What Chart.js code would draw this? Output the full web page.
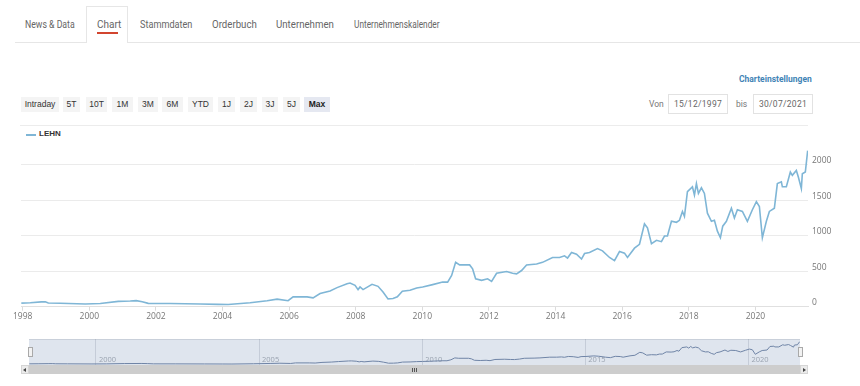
<!DOCTYPE html>
<html><head><meta charset="utf-8">
<script src="https://cdn.jsdelivr.net/npm/chart.js@4.4.0/dist/chart.umd.min.js"></script>
<style>
html,body{margin:0;padding:0;background:#fff;width:860px;height:386px;overflow:hidden;position:relative;font-family:"Open Sans",sans-serif;}
.abs{position:absolute;}
.tab{position:absolute;top:18px;font-family:Roboto,"Open Sans",sans-serif;font-size:10.5px;color:#666;white-space:nowrap;transform-origin:0 50%;}
.btn{position:absolute;top:97px;height:15px;line-height:15px;background:#f4f4f4;text-align:center;font-family:"Liberation Sans",Arial,sans-serif;font-size:8.5px;color:#333;}
.inp{position:absolute;top:94px;height:20px;border:1px solid #e2e2e2;box-sizing:border-box;font-family:Roboto,sans-serif;font-size:8.5px;color:#666;text-align:center;line-height:18px;letter-spacing:0.3px;}
</style></head>
<body>
<!-- tabs -->
<div class="abs" style="left:15px;top:42px;width:845px;height:1px;background:#e6e6e6"></div>
<div class="abs" style="left:86px;top:6px;width:42px;height:37px;border:1px solid #e6e6e6;border-bottom:none;background:#fff;box-sizing:border-box"></div>
<div class="tab" style="left:25px;transform:scaleX(0.83)">News &amp; Data</div>
<div class="tab" style="left:97px;transform:scaleX(0.95)">Chart</div>
<div class="abs" style="left:97px;top:32px;width:21px;height:2px;background:#d2452f"></div>
<div class="tab" style="left:140px;transform:scaleX(0.87)">Stammdaten</div>
<div class="tab" style="left:212px;transform:scaleX(0.92)">Orderbuch</div>
<div class="tab" style="left:276px;transform:scaleX(0.92)">Unternehmen</div>
<div class="tab" style="left:354px;transform:scaleX(0.79)">Unternehmenskalender</div>

<div class="abs" style="left:739px;top:74px;font-family:Roboto,sans-serif;font-size:8.5px;font-weight:bold;color:#3f83b5">Charteinstellungen</div>

<div id="btns"></div>

<div class="abs" style="left:649px;top:99px;font-family:Roboto,sans-serif;font-size:8.5px;color:#777">Von</div>
<div class="inp" style="left:668px;width:60px">15/12/1997</div>
<div class="abs" style="left:736px;top:99px;font-family:Roboto,sans-serif;font-size:8.5px;color:#777">bis</div>
<div class="inp" style="left:753px;width:60px">30/07/2021</div>

<div class="abs" style="left:20px;top:125px;width:788px;height:1px;background:#ececec"></div>

<div class="abs" style="left:26px;top:134px;width:10px;height:1.5px;background:#7fb6d6"></div>
<div class="abs" style="left:39px;top:129px;font-family:'Liberation Sans',Arial,sans-serif;font-size:8px;font-weight:bold;color:#333">LEHN</div>

<div class="abs" style="left:0;top:138px;width:860px;height:200px"><canvas id="main" width="860" height="200"></canvas></div>

<!-- navigator -->
<div class="abs" style="left:29px;top:339px;width:771px;height:26px;background:#dfe5ee;border-top:1px solid #c9d0da;box-sizing:border-box"></div>
<div class="abs" style="left:0;top:336px;width:860px;height:32px"><canvas id="nav" width="860" height="32"></canvas></div>
<div class="abs" style="left:28px;top:347px;width:5px;height:10px;background:#f2f2f2;border:1px solid #a9a9a9;box-sizing:border-box"></div>
<div class="abs" style="left:798px;top:347px;width:5px;height:10px;background:#f2f2f2;border:1px solid #a9a9a9;box-sizing:border-box"></div>
<!-- scrollbar -->
<div class="abs" style="left:29px;top:365px;width:771px;height:9px;background:#cdcdcd"></div>
<div class="abs" style="left:21px;top:365px;width:8px;height:9px;background:#ebebeb;border:1px solid #d5d5d5;box-sizing:border-box"></div>
<div class="abs" style="left:23px;top:368px;width:0;height:0;border-top:2px solid transparent;border-bottom:2px solid transparent;border-right:3px solid #444"></div>
<div class="abs" style="left:800px;top:365px;width:8px;height:9px;background:#ebebeb;border:1px solid #d5d5d5;box-sizing:border-box"></div>
<div class="abs" style="left:803px;top:368px;width:0;height:0;border-top:2px solid transparent;border-bottom:2px solid transparent;border-left:3px solid #444"></div>
<div class="abs" style="left:412px;top:368px;width:1px;height:4px;background:#555"></div>
<div class="abs" style="left:414px;top:368px;width:1px;height:4px;background:#555"></div>
<div class="abs" style="left:416px;top:368px;width:1px;height:4px;background:#555"></div>

<script>
// ---- data ----
const buttonLabels = ["Intraday","5T","10T","1M","3M","6M","YTD","1J","2J","3J","5J","Max"];
const seriesName = "LEHN";
const years = [1997.96,1998.23,1998.56,1998.68,1998.77,1999.13,1999.88,2000.33,2000.87,2001.23,2001.41,2001.59,2001.77,2002.43,2003.33,2003.87,2004.17,2004.83,2005.34,2005.64,2005.97,2006.12,2006.54,2006.72,2006.93,2007.23,2007.44,2007.74,2007.83,2007.98,2008.07,2008.13,2008.22,2008.49,2008.67,2008.82,2008.97,2009.12,2009.25,2009.40,2009.63,2009.83,2010.01,2010.31,2010.61,2010.76,2010.88,2011.00,2011.12,2011.42,2011.51,2011.60,2011.78,2011.96,2012.08,2012.23,2012.53,2012.71,2012.83,2012.98,2013.13,2013.43,2013.61,2013.91,2014.12,2014.27,2014.36,2014.48,2014.63,2014.78,2014.87,2015.02,2015.26,2015.41,2015.62,2015.77,2015.92,2016.07,2016.16,2016.37,2016.52,2016.67,2016.76,2016.88,2017.03,2017.18,2017.27,2017.36,2017.48,2017.63,2017.72,2017.81,2017.87,2017.96,2018.11,2018.17,2018.23,2018.29,2018.38,2018.47,2018.56,2018.68,2018.77,2018.86,2018.95,2019.02,2019.13,2019.28,2019.37,2019.46,2019.61,2019.76,2019.91,2020.03,2020.12,2020.21,2020.33,2020.42,2020.57,2020.66,2020.78,2020.81,2020.93,2021.05,2021.11,2021.23,2021.29,2021.38,2021.41,2021.50,2021.57];
const values = [50,55,68,70,52,48,38,45,75,80,85,70,47,45,38,33,30,55,84,107,84,139,139,125,186,222,269,325,334,301,241,278,241,315,287,208,110,115,139,218,232,264,278,311,347,347,440,625,589,589,533,394,371,394,357,472,496,472,463,510,589,603,625,694,694,718,686,764,741,672,750,764,819,787,694,649,778,755,694,825,880,1167,1111,889,936,917,996,996,1204,1190,1218,1343,1274,1621,1690,1575,1736,1597,1676,1597,1319,1204,1218,1065,972,1135,1204,1389,1250,1367,1343,1204,1367,1482,1413,972,1204,1343,1389,1736,1760,1690,1690,1898,1852,1921,1829,1667,1875,1898,2200];
const xTickYears = [1998,2000,2002,2004,2006,2008,2010,2012,2014,2016,2018,2020];
const yTickValues = [0,500,1000,1500,2000];
const navTickYears = [2000,2005,2010,2015,2020];
const startYear = 1997.95, endYear = 2021.58;

// buttons
const btnBoxes = [[21,38],[63,17],[86,21],[112,21],[138,20],[162,21],[188,25],[218,17],[240,17],[262,16],[283,17],[304,26]];
const btnWrap = document.getElementById('btns');
buttonLabels.forEach((t,i)=>{
  const d=document.createElement('div'); d.className='btn'; d.textContent=t;
  d.style.left=btnBoxes[i][0]+'px'; d.style.width=btnBoxes[i][1]+'px';
  if(t==='Max'){d.style.background='#e5e8f1';d.style.fontWeight='bold';d.style.color='#222';}
  btnWrap.appendChild(d);
});

const pts = years.map((y,i)=>({x:y,y:values[i]}));
const lblFont = {family:"'Open Sans',sans-serif", size:8.5};

new Chart(document.getElementById('main'),{
  type:'line',
  data:{datasets:[{label:seriesName,data:pts,borderColor:'#7fb6d6',borderWidth:1.6,pointRadius:0,tension:0,fill:false}]},
  options:{
    responsive:false,animation:false,
    layout:{autoPadding:false,padding:{left:21,top:6.7,right:0,bottom:0}},
    plugins:{legend:{display:false},tooltip:{enabled:false}},
    scales:{
      x:{type:'linear',min:startYear,max:endYear,
        afterBuildTicks:s=>{s.ticks=xTickYears.map(v=>({value:v}));},
        afterFit:s=>{s.height=31.3;},
        grid:{drawOnChartArea:false,drawTicks:true,tickLength:4,color:'#dcdcdc'},
        border:{color:'#e0e0e0'},
        ticks:{padding:1,color:'#777',font:lblFont,maxRotation:0,autoSkip:false,callback:v=>String(v)}},
      y:{position:'right',min:0,max:2250,
        afterBuildTicks:s=>{s.ticks=yTickValues.map(v=>({value:v}));},
        afterFit:s=>{s.width=52;},
        grid:{drawTicks:false,color:'#ebebeb'},
        border:{display:false},
        ticks:{padding:4,labelOffset:-4,color:'#777',font:lblFont,callback:v=>String(v)}}
    }
  }
});

new Chart(document.getElementById('nav'),{
  type:'line',
  data:{datasets:[{label:seriesName,data:pts,borderColor:'#6f84a6',borderWidth:1,pointRadius:0,tension:0,fill:false}]},
  options:{
    responsive:false,animation:false,
    layout:{autoPadding:false,padding:{left:29,right:60,top:3,bottom:0}},
    plugins:{legend:{display:false},tooltip:{enabled:false}},
    scales:{
      x:{type:'linear',min:startYear,max:endYear,
        afterBuildTicks:s=>{s.ticks=navTickYears.map(v=>({value:v}));},
        afterFit:s=>{s.height=3;},
        grid:{drawTicks:false,color:'rgba(120,130,150,0.25)'},
        border:{display:false},
        ticks:{mirror:true,align:'start',labelOffset:3,padding:1,color:'#9aa3b0',font:{family:"'Open Sans',sans-serif",size:7.5},maxRotation:0,autoSkip:false,callback:v=>String(v)}},
      y:{display:false,min:-65,max:2460}
    }
  }
});
</script>
</body></html>
